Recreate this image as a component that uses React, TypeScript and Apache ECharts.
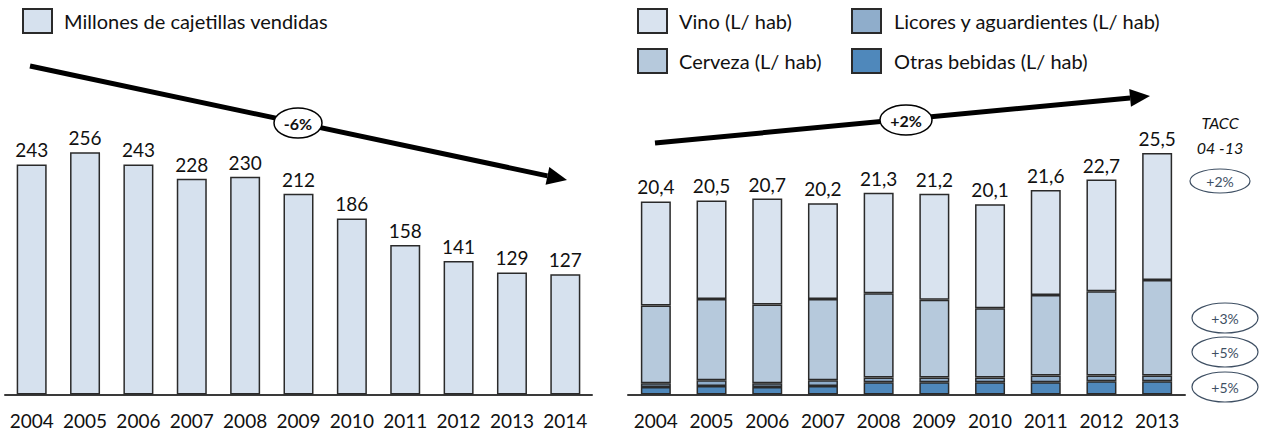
import React, { useEffect, useRef } from "react";
import * as echarts from "echarts";

const leftYears = ["2004", "2005", "2006", "2007", "2008", "2009", "2010", "2011", "2012", "2013", "2014"];
const cajetillas = [243, 256, 243, 228, 230, 212, 186, 158, 141, 129, 127];

const rightYears = ["2004", "2005", "2006", "2007", "2008", "2009", "2010", "2011", "2012", "2013"];
const otras = [0.8, 0.9, 0.8, 0.9, 1.3, 1.3, 1.3, 1.3, 1.4, 1.4];
const licores = [0.4, 0.6, 0.4, 0.6, 0.5, 0.5, 0.5, 0.7, 0.6, 0.6];
const cerveza = [8.2, 8.6, 8.3, 8.6, 8.9, 8.2, 7.3, 8.5, 8.9, 10.1];
const vino = [11.0, 10.4, 11.2, 10.1, 10.6, 11.2, 11.0, 11.1, 11.8, 13.4];
const totals = [20.4, 20.5, 20.7, 20.2, 21.3, 21.2, 20.1, 21.6, 22.7, 25.5];

const taccLabels = ["+2%", "+3%", "+5%", "+5%"];
const trendLeft = "-6%";
const trendRight = "+2%";

const FONT = "Lato, 'Open Sans', sans-serif";
const TXT = "#111";
const BORDER = "#2a2a2a";

export default function App() {
  const ref = useRef<HTMLDivElement>(null);
  useEffect(() => {
    if (!ref.current) return;
    const chart = echarts.init(ref.current, undefined, { renderer: "svg" });

    const barBase = (color: string) => ({ color, borderColor: BORDER, borderWidth: 1.5 });

    const arrow = (x1: number, y1: number, x2: number, y2: number) => {
      const dx = x2 - x1, dy = y2 - y1;
      const len = Math.sqrt(dx * dx + dy * dy);
      const ux = dx / len, uy = dy / len;
      const hl = 20, hw = 9;
      const bx = x2 - ux * hl, by = y2 - uy * hl;
      const px = -uy, py = ux;
      return [
        { type: "line", z: 10, shape: { x1, y1, x2: bx, y2: by }, style: { stroke: "#000", lineWidth: 5 } },
        {
          type: "polygon", z: 10,
          shape: { points: [[x2, y2], [bx + px * hw, by + py * hw], [bx - px * hw, by - py * hw]] },
          style: { fill: "#000" },
        },
      ];
    };

    const bubble = (cx: number, cy: number, rx: number, ry: number, text: string, stroke: string, color: string, font: string, lw: number) => [
      { type: "ellipse", z: 11, shape: { cx, cy, rx, ry }, style: { fill: "#fff", stroke, lineWidth: lw } },
      {
        type: "text", z: 12, x: cx, y: cy,
        style: { text, fill: color, font, align: "center", verticalAlign: "middle" },
      },
    ];

    const taccPos = [181, 318, 352, 387];

    const graphic: any[] = [
      ...arrow(30, 66, 567, 180),
      ...bubble(298, 123, 24, 15, trendLeft, "#000", TXT, `bold 16px ${FONT}`, 1.5),
      ...arrow(655, 143, 1150, 96),
      ...bubble(906, 120, 26, 15, trendRight, "#000", TXT, `bold 16px ${FONT}`, 1.5),
      {
        type: "text", x: 1220, y: 122,
        style: { text: "TACC", fill: TXT, font: `italic 16px ${FONT}`, align: "center", verticalAlign: "middle" },
      },
      {
        type: "text", x: 1220, y: 147,
        style: { text: "04 -13", fill: TXT, font: `italic 16px ${FONT}`, align: "center", verticalAlign: "middle" },
      },
      ...taccLabels.flatMap((t, i) =>
        bubble(i === 0 ? 1220 : 1225, taccPos[i], i === 0 ? 30 : 33, i === 0 ? 12 : 15, t, "#3e4f63", "#3e4f63", `14px ${FONT}`, 1.2)
      ),
    ];

    const legendText = { fontSize: 20, color: TXT, lineHeight: 24 };

    chart.setOption({
      animation: false,
      textStyle: { fontFamily: FONT },
      legend: [
        {
          data: ["Millones de cajetillas vendidas"],
          left: 17, top: 3, itemWidth: 29, itemHeight: 24, itemGap: 13,
          icon: "rect",
          textStyle: { ...legendText, padding: [0, 0, 0, 7] },
        },
        {
          data: ["Vino (L/ hab)", "Cerveza (L/ hab)"],
          orient: "vertical", left: 632, top: 3, itemWidth: 29, itemHeight: 24, itemGap: 14,
          icon: "rect",
          textStyle: { ...legendText, padding: [0, 0, 0, 7] },
        },
        {
          data: ["Licores y aguardientes (L/ hab)", "Otras bebidas (L/ hab)"],
          orient: "vertical", left: 846, top: 3, itemWidth: 29, itemHeight: 24, itemGap: 14,
          icon: "rect",
          textStyle: { ...legendText, padding: [0, 0, 0, 8] },
        },
      ],
      grid: [
        { left: 5, width: 587, top: 110.5, height: 284, containLabel: false, outerBoundsMode: "none" },
        { left: 628, width: 557, top: 110.5, height: 284, containLabel: false, outerBoundsMode: "none" },
      ],
      xAxis: [
        {
          type: "category", gridIndex: 0, data: leftYears,
          axisLine: { lineStyle: { color: "#3a3a3a", width: 2 } },
          axisTick: { show: false },
          axisLabel: { fontSize: 19, color: TXT, margin: 16, interval: 0 },
        },
        {
          type: "category", gridIndex: 1, data: rightYears,
          axisLine: { lineStyle: { color: "#3a3a3a", width: 2 } },
          axisTick: { show: false },
          axisLabel: { fontSize: 19, color: TXT, margin: 16, interval: 0 },
        },
      ],
      yAxis: [
        { type: "value", gridIndex: 0, min: 0, max: 300, show: false, splitLine: { show: false } },
        { type: "value", gridIndex: 1, min: 0, max: 30, show: false, splitLine: { show: false } },
      ],
      series: [
        {
          name: "Millones de cajetillas vendidas", type: "bar", xAxisIndex: 0, yAxisIndex: 0,
          data: cajetillas, barWidth: 30,
          itemStyle: barBase("#d6e1ee"),
          label: { show: true, position: "top", distance: 5, fontSize: 19, color: TXT },
        },
        {
          name: "Otras bebidas (L/ hab)", type: "bar", stack: "r", xAxisIndex: 1, yAxisIndex: 1,
          data: otras, barWidth: 30, itemStyle: barBase("#4f88bb"),
        },
        {
          name: "Licores y aguardientes (L/ hab)", type: "bar", stack: "r", xAxisIndex: 1, yAxisIndex: 1,
          data: licores, barWidth: 30, itemStyle: barBase("#8fadcb"),
        },
        {
          name: "Cerveza (L/ hab)", type: "bar", stack: "r", xAxisIndex: 1, yAxisIndex: 1,
          data: cerveza, barWidth: 30, itemStyle: barBase("#b6c9dc"),
        },
        {
          name: "Vino (L/ hab)", type: "bar", stack: "r", xAxisIndex: 1, yAxisIndex: 1,
          data: vino, barWidth: 30, itemStyle: barBase("#d9e3ef"),
          label: {
            show: true, position: "top", distance: 5, fontSize: 19, color: TXT,
            formatter: (p: any) => totals[p.dataIndex].toFixed(1).replace(".", ","),
          },
        },
      ],
      graphic,
    });
    return () => chart.dispose();
  }, []);
  return <div ref={ref} style={{ position: "fixed", left: 0, top: 0, width: 1267, height: 444, background: "#fff" }} />;
}
